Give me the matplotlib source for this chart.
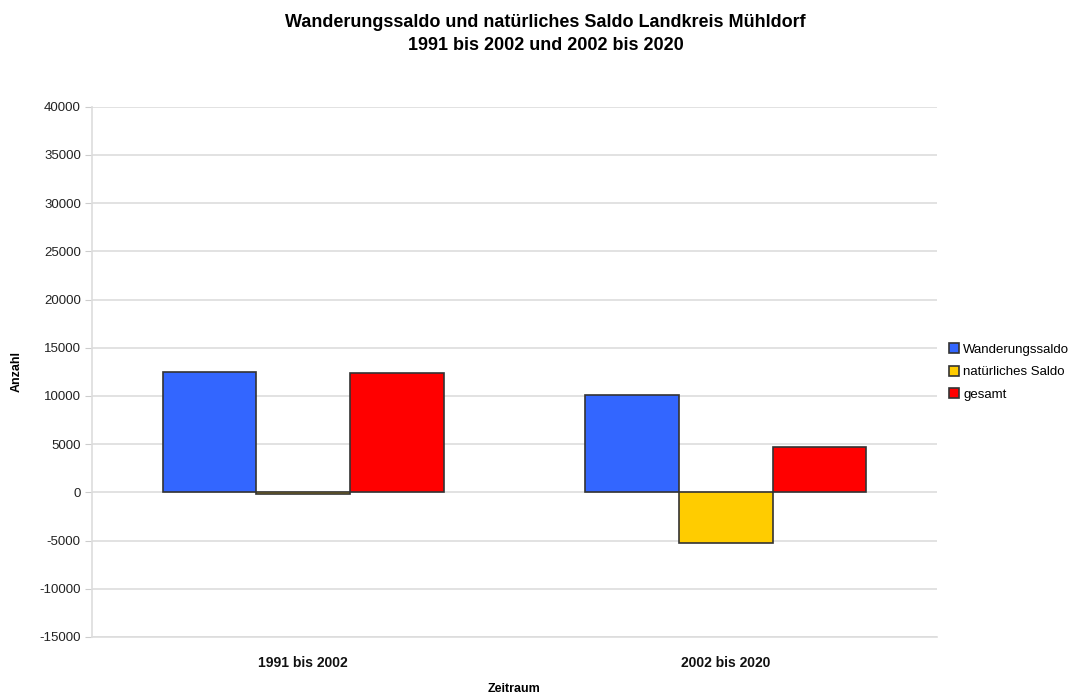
import numpy as np
import matplotlib
matplotlib.use("Agg")
import matplotlib.pyplot as plt

plt.rcParams['font.family'] = ['Liberation Sans', 'DejaVu Sans']

# Data
zeitraeume = ["1991 bis 2002", "2002 bis 2020"]
wanderungssaldo = [12500, 10050]
natuerliches_saldo = [-150, -5270]
gesamt = [12370, 4720]

serien = ["Wanderungssaldo", "natürliches Saldo", "gesamt"]
farben = ["#3366ff", "#ffcc00", "#ff0000"]

fig = plt.figure(figsize=(10.91, 6.95), dpi=100)
ax = fig.add_axes([0.0843, 0.0835, 0.7745, 0.763])

x = np.arange(len(zeitraeume))
breite = 0.222
for i, (werte, name, farbe) in enumerate(zip([wanderungssaldo, natuerliches_saldo, gesamt], serien, farben)):
    ax.bar(x + (i - 1) * breite, werte, breite, color=farbe, edgecolor="#333333",
           linewidth=1.2, label=name, zorder=3)

ax.set_xlim(-0.5, 1.5)
ax.set_ylim(-15000, 40000)
ax.set_yticks(np.arange(-15000, 40001, 5000))
ax.set_yticklabels([str(v) for v in range(-15000, 40001, 5000)])
ax.set_xticks(x)
ax.set_xticklabels(zeitraeume, fontweight="bold", fontsize=10)

ax.grid(axis="y", color="#dddddd", linewidth=1.2, zorder=0)
for s in ["top", "right"]:
    ax.spines[s].set_visible(False)
ax.spines["left"].set_color("#dddddd")
ax.spines["bottom"].set_color("#dddddd")
ax.spines["left"].set_linewidth(1.2)
ax.spines["bottom"].set_linewidth(1.2)
ax.tick_params(axis="y", colors="#cccccc", labelcolor="#222222", labelsize=9.5, length=5, pad=3)
ax.tick_params(axis="x", length=0, pad=14, labelcolor="#111111")

ax.set_xlabel("Zeitraum", fontweight="bold", fontsize=9, labelpad=9)
ax.set_ylabel("Anzahl", fontweight="bold", fontsize=9, labelpad=12)

fig.suptitle("Wanderungssaldo und natürliches Saldo Landkreis Mühldorf\n1991 bis 2002 und 2002 bis 2020",
             fontweight="bold", fontsize=13, y=0.98, linespacing=1.45)

ax.legend(loc="center left", bbox_to_anchor=(1.0, 0.5), frameon=False, fontsize=9.5,
          handlelength=0.8, handleheight=0.8, handletextpad=0.3, labelspacing=0.75)

fig.savefig("out.png", dpi=100)
